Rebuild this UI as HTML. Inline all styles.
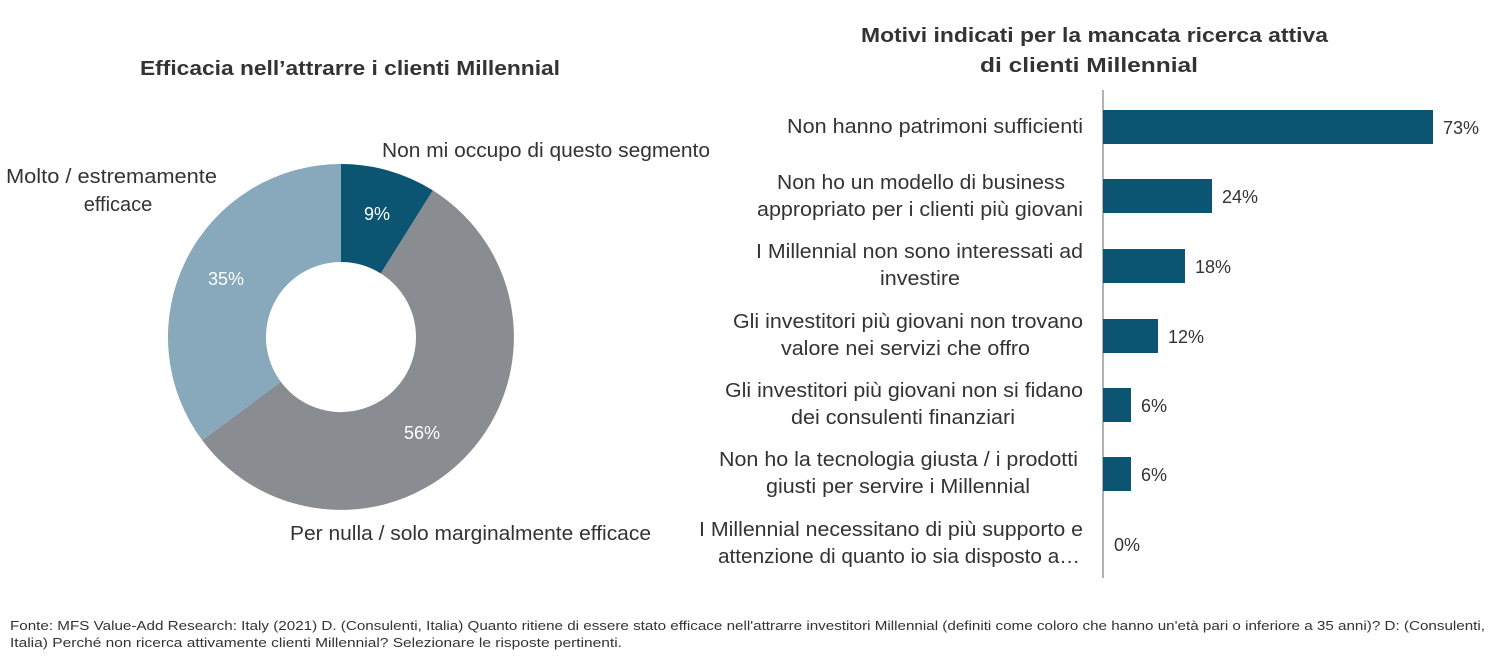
<!DOCTYPE html>
<html><head><meta charset="utf-8"><style>
body{margin:0;background:#fff;width:1491px;height:653px;overflow:hidden;font-family:"Liberation Sans",sans-serif;}
</style></head><body>
<svg width="1491" height="653" xmlns="http://www.w3.org/2000/svg" font-family="Liberation Sans, sans-serif">
<text x="140" y="75" font-size="20" font-weight="bold" fill="#333" textLength="420" lengthAdjust="spacingAndGlyphs">Efficacia nell’attrarre i clienti Millennial</text>
<g transform="translate(341,337)">
<path d="M0,-173 A173,173 0 0 1 91.9,-146.6 L39.8,-63.5 A75,75 0 0 0 0,-75 Z" fill="#0b5572"/>
<path d="M91.9,-146.6 A173,173 0 1 1 -138.8,103.3 L-60.2,44.8 A75,75 0 1 0 39.8,-63.5 Z" fill="#898c90"/>
<path d="M-138.8,103.3 A173,173 0 0 1 0,-173 L0,-75 A75,75 0 0 0 -60.2,44.8 Z" fill="#87a9bb"/>
</g>
<g font-size="18" fill="#fff" text-anchor="middle">
<text x="377" y="220">9%</text>
<text x="422" y="439">56%</text>
<text x="226" y="285">35%</text>
</g>
<g font-size="20" fill="#333">
<text x="382" y="157" textLength="328" lengthAdjust="spacingAndGlyphs">Non mi occupo di questo segmento</text>
<text x="6" y="183" textLength="211" lengthAdjust="spacingAndGlyphs">Molto / estremamente</text>
<text x="118" y="211" text-anchor="middle">efficace</text>
<text x="290" y="540" textLength="361" lengthAdjust="spacingAndGlyphs">Per nulla / solo marginalmente efficace</text>
</g>
<g font-size="20" font-weight="bold" fill="#333">
<text x="861" y="42" textLength="467" lengthAdjust="spacingAndGlyphs">Motivi indicati per la mancata ricerca attiva</text>
<text x="980" y="72" textLength="218" lengthAdjust="spacingAndGlyphs">di clienti Millennial</text>
</g>
<line x1="1103" y1="90" x2="1103" y2="578" stroke="#999" stroke-width="1.5"/>
<g fill="#0b5572">
<rect x="1103" y="110" width="330" height="34"/>
<rect x="1103" y="179" width="109" height="34"/>
<rect x="1103" y="249" width="82" height="34"/>
<rect x="1103" y="319" width="55" height="34"/>
<rect x="1103" y="388" width="28" height="34"/>
<rect x="1103" y="457" width="28" height="34"/>
</g>
<g font-size="18" fill="#333">
<text x="1443" y="134">73%</text>
<text x="1222" y="203">24%</text>
<text x="1195" y="273">18%</text>
<text x="1168" y="343">12%</text>
<text x="1141" y="412">6%</text>
<text x="1141" y="481">6%</text>
<text x="1114" y="551">0%</text>
</g>
<g font-size="20" fill="#333" lengthAdjust="spacingAndGlyphs">
<text x="787" y="133" textLength="296" lengthAdjust="spacingAndGlyphs">Non hanno patrimoni sufficienti</text>
<text x="777" y="189" textLength="288" lengthAdjust="spacingAndGlyphs">Non ho un modello di business</text>
<text x="757" y="216" textLength="326" lengthAdjust="spacingAndGlyphs">appropriato per i clienti più giovani</text>
<text x="756" y="258" textLength="327" lengthAdjust="spacingAndGlyphs">I Millennial non sono interessati ad</text>
<text x="880" y="285" textLength="80" lengthAdjust="spacingAndGlyphs">investire</text>
<text x="733" y="328" textLength="350" lengthAdjust="spacingAndGlyphs">Gli investitori più giovani non trovano</text>
<text x="781" y="355" textLength="249" lengthAdjust="spacingAndGlyphs">valore nei servizi che offro</text>
<text x="725" y="397" textLength="358" lengthAdjust="spacingAndGlyphs">Gli investitori più giovani non si fidano</text>
<text x="791" y="424" textLength="224" lengthAdjust="spacingAndGlyphs">dei consulenti finanziari</text>
<text x="719" y="466" textLength="359" lengthAdjust="spacingAndGlyphs">Non ho la tecnologia giusta / i prodotti</text>
<text x="766" y="493" textLength="264" lengthAdjust="spacingAndGlyphs">giusti per servire i Millennial</text>
<text x="699" y="536" textLength="384" lengthAdjust="spacingAndGlyphs">I Millennial necessitano di più supporto e</text>
<text x="718" y="563" textLength="362" lengthAdjust="spacingAndGlyphs">attenzione di quanto io sia disposto a…</text>
</g>
<g font-size="13" fill="#333">
<text x="10" y="630" textLength="1475" lengthAdjust="spacingAndGlyphs">Fonte: MFS Value-Add Research: Italy (2021) D. (Consulenti, Italia) Quanto ritiene di essere stato efficace nell'attrarre investitori Millennial (definiti come coloro che hanno un'età pari o inferiore a 35 anni)? D: (Consulenti,</text>
<text x="10" y="647" textLength="612" lengthAdjust="spacingAndGlyphs">Italia) Perché non ricerca attivamente clienti Millennial? Selezionare le risposte pertinenti.</text>
</g>
</svg>
</body></html>
